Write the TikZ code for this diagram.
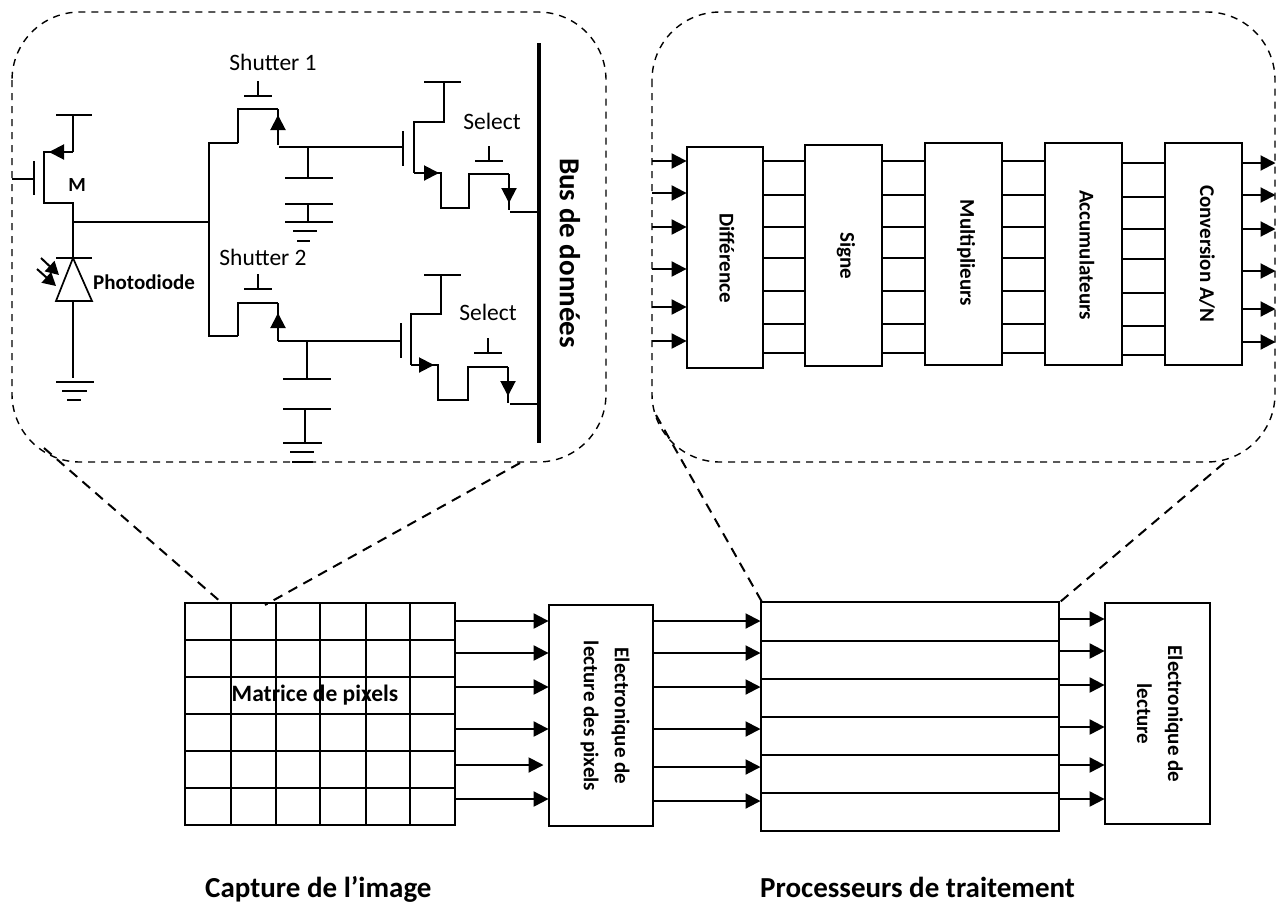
\documentclass[tikz,border=0pt]{standalone}
\usepackage{fontspec}
\setmainfont{Carlito}
\usetikzlibrary{arrows.meta}
\tikzset{
  wire/.style={line width=1.7pt,line cap=butt},
  arr/.style={line width=2pt,-{Triangle[length=15pt,width=15pt]},shorten >=-0.5pt},
  garr/.style={line width=2pt,-{Triangle[length=15pt,width=15pt]}},
  lightarr/.style={line width=2pt,-{Triangle[length=13pt,width=14pt]}},
  blockbox/.style={draw,line width=1.8pt,inner sep=0pt,minimum width=#1,minimum height=221pt},
  vlabel/.style={rotate=-90,inner sep=0pt,font=\bfseries\fontsize{21}{25}\selectfont},
  twolabel/.style={rotate=-90,inner sep=0pt,align=center,font=\bfseries\fontsize{21}{31}\selectfont},
  thin label/.style={inner sep=0pt,font=\fontsize{23.5}{27}\selectfont},
  bold label/.style={inner sep=0pt,font=\bfseries\fontsize{#1}{#1}\selectfont},
  zone/.style={draw,dashed,line width=1.4pt,dash pattern=on 7pt off 6pt,rounded corners=68pt},
  zoomline/.style={line width=2pt,dash pattern=on 10pt off 7pt},
}
\newcommand{\gatebar}[3]{\draw[wire] (#1,#2-15) -- (#1,#2) (#1-14,#2) -- (#1+14,#2);}
\begin{document}
\begin{tikzpicture}[x=1pt,y=-1pt]
\useasboundingbox (0,0) rectangle (1281,903);
% zones
\draw[zone] (12,12) rectangle (606,462);
\draw[zone] (652,12) rectangle (1275,462);
% input transistor
\draw[wire] (56,115) -- (92,115) (73,115) -- (73,152);
\draw[garr] (73,152) -- (49,152);
\draw[wire] (52,152) -- (44,152) -- (44,203) -- (73,203) -- (73,258);
\draw[wire] (34,161) -- (34,195) (12,179) -- (34,179);
\node[bold label=20] (m) at (77,185) {M};
% photodiode
\draw[wire] (56,258) -- (92,258);
\draw[wire] (73,258) -- (56,301) -- (92,301) -- cycle;
\draw[wire] (73,301) -- (73,378);
\draw[wire] (56,382) -- (94,382) (62,391) -- (87,391) (67,400) -- (81,400);
\draw[lightarr] (41,258) -- (59,275);
\draw[lightarr] (37,269) -- (56,286);
\node[bold label=21,anchor=west] (pd) at (93,282) {Photodiode};
% node wire
\draw[wire] (73,222) -- (209,222);
\draw[wire] (238,143) -- (209,143) -- (209,336) -- (238,336);
% shutter 1
\node[thin label] (s1) at (273,62) {Shutter 1};
\gatebar{258}{96}{}
\draw[wire] (238,143) -- (238,109) -- (278,109);
\draw[garr] (278,145) -- (278,115);
\draw[wire] (278,109) -- (278,117);
\draw[wire] (279,147) -- (403,147);
\draw[wire] (308,147) -- (308,178) (285,178) -- (333,178);
\draw[wire] (285,204) -- (333,204) (308,204) -- (308,222) (285,222) -- (333,222);
\draw[wire] (293,231) -- (317,231) (297,241) -- (310,241);
% shutter 2
\node[thin label] (s2) at (263,257) {Shutter 2};
\gatebar{258}{289}{}
\draw[wire] (238,336) -- (238,303) -- (278,303);
\draw[garr] (278,341) -- (278,313);
\draw[wire] (278,303) -- (278,315);
\draw[wire] (278,341) -- (400,341);
\draw[wire] (307,341) -- (307,379) (283,379) -- (331,379);
\draw[wire] (283,409) -- (331,409) (305,409) -- (305,443) (283,443) -- (322,443);
\draw[wire] (290,452) -- (314,452) (292,462) -- (313,462);
% upper follower
\draw[wire] (424,82) -- (461,82) (444,82) -- (444,122) -- (414,122) -- (414,173);
\draw[wire] (403,131) -- (403,166);
\draw[garr] (414,173) -- (439,173);
\draw[wire] (436,173) -- (441,173) -- (441,208) -- (469,208) -- (469,174) -- (509,174);
\draw[garr] (509,174) -- (509,203);
\draw[wire] (509,200) -- (509,210) (510,212) -- (539,212);
\node[thin label] (sel1) at (492,121) {Select};
\gatebar{489}{161}{}
% lower follower
\draw[wire] (424,275) -- (461,275) (441,275) -- (441,314) -- (411,314) -- (411,365);
\draw[wire] (401,323) -- (401,358);
\draw[garr] (411,365) -- (434,365);
\draw[wire] (431,365) -- (438,365) -- (438,400) -- (468,400) -- (468,367) -- (508,367);
\draw[garr] (508,367) -- (508,396);
\draw[wire] (508,393) -- (508,403) (510,404) -- (539,404);
\node[thin label] (sel2) at (488,312) {Select};
\gatebar{488}{353}{}
% bus
\draw[line width=4pt] (539,43) -- (539,443);
\node[rotate=-90,inner sep=0pt,font=\bfseries\fontsize{29}{32}\selectfont] (bus) at (570,253) {Bus de données};
% processing blocks
\node[blockbox=76pt,minimum height=221pt] (diff) at (725,257.5) {};
\node[blockbox=77pt,minimum height=221pt] (sign) at (843.5,255.5) {};
\node[blockbox=77pt,minimum height=222pt] (mult) at (963.5,254) {};
\node[blockbox=77pt,minimum height=222pt] (accu) at (1083.5,254) {};
\node[blockbox=77pt,minimum height=222pt] (conv) at (1203.5,254) {};
\node[vlabel] (tdiff) at (727,258) {Différence};
\node[vlabel] (tsign) at (846,256) {Signe};
\node[vlabel] (tmult) at (966,253) {Multiplieurs};
\node[vlabel] (taccu) at (1087,255) {Accumulateurs};
\node[vlabel] (tconv) at (1207,254) {Conversion A/N};
\coordinate (inL) at (652,0);
\coordinate (outR) at (1275,0);
\foreach \y in {161,193,227,269,307,341}
  \draw[arr] (inL |- 0,\y) -- (diff.west |- 0,\y);
\foreach \y in {161,195,227,258,291,324,353} {
  \draw[wire] (diff.east |- 0,\y) -- (sign.west |- 0,\y);
  \draw[wire] (sign.east |- 0,\y) -- (mult.west |- 0,\y);
  \draw[wire] (mult.east |- 0,\y) -- (accu.west |- 0,\y);
}
\foreach \y in {163,197,229,259,293,326,355}
  \draw[wire] (accu.east |- 0,\y) -- (conv.west |- 0,\y);
\foreach \y in {163,195,229,271,309,342}
  \draw[arr] (conv.east |- 0,\y) -- (outR |- 0,\y);
% pixel matrix
\node[draw,line width=1.8pt,inner sep=0pt,minimum width=270pt,minimum height=222pt] (mat) at (320,714) {};
\foreach \x in {231,276,320,366,410}
  \draw[wire] (\x,603) -- (\x,825);
\foreach \y in {640,677,714,751,788}
  \draw[wire] (185,\y) -- (455,\y);
\node[bold label=23.5] (tmat) at (315,695) {Matrice de pixels};
% readout 1
\node[draw,line width=1.8pt,inner sep=0pt,minimum width=104pt,minimum height=221pt] (ro1) at (601,715.5) {};
\node[twolabel] (tro1) at (605,716) {Electronique de\\lecture des pixels};
\foreach \y in {621,653,687,729,799}
  \draw[arr] (mat.east |- 0,\y) -- (ro1.west |- 0,\y);
\coordinate (short) at (543,765);
\draw[arr] (mat.east |- short) -- (short);
% processors
\node[draw,line width=2pt,inner sep=0pt,minimum width=298pt,minimum height=229pt] (proc) at (910,716.5) {};
\foreach \y in {641,679,717,755,793}
  \draw[wire] (proc.west |- 0,\y) -- (proc.east |- 0,\y);
\foreach \y in {621,653,687,729,767,801}
  \draw[arr] (ro1.east |- 0,\y) -- (proc.west |- 0,\y);
% readout 2
\node[draw,line width=1.8pt,inner sep=0pt,minimum width=105pt,minimum height=221pt] (ro2) at (1157.5,713.5) {};
\node[twolabel] (tro2) at (1160,714) {Electronique de\\lecture};
\foreach \y in {619,651,685,727,765,799}
  \draw[arr] (proc.east |- 0,\y) -- (ro2.west |- 0,\y);
% zoom lines
\coordinate (a1) at (44,448); \coordinate (a2) at (222,603);
\coordinate (b1) at (520,463); \coordinate (b2) at (265,605);
\coordinate (c1) at (656,415); \coordinate (c2) at (762,602);
\coordinate (d1) at (1224,463); \coordinate (d2) at (1060,602);
\draw[zoomline] (a1) -- (a2);
\draw[zoomline] (b1) -- (b2);
\draw[zoomline] (c1) -- (c2);
\draw[zoomline] (d1) -- (d2);
% captions
\node[bold label=29,anchor=base west] (cap1) at (205,897) {Capture de l’image};
\node[bold label=29,anchor=base west] (cap2) at (760,897) {Processeurs de traitement};
\end{tikzpicture}
\end{document}
